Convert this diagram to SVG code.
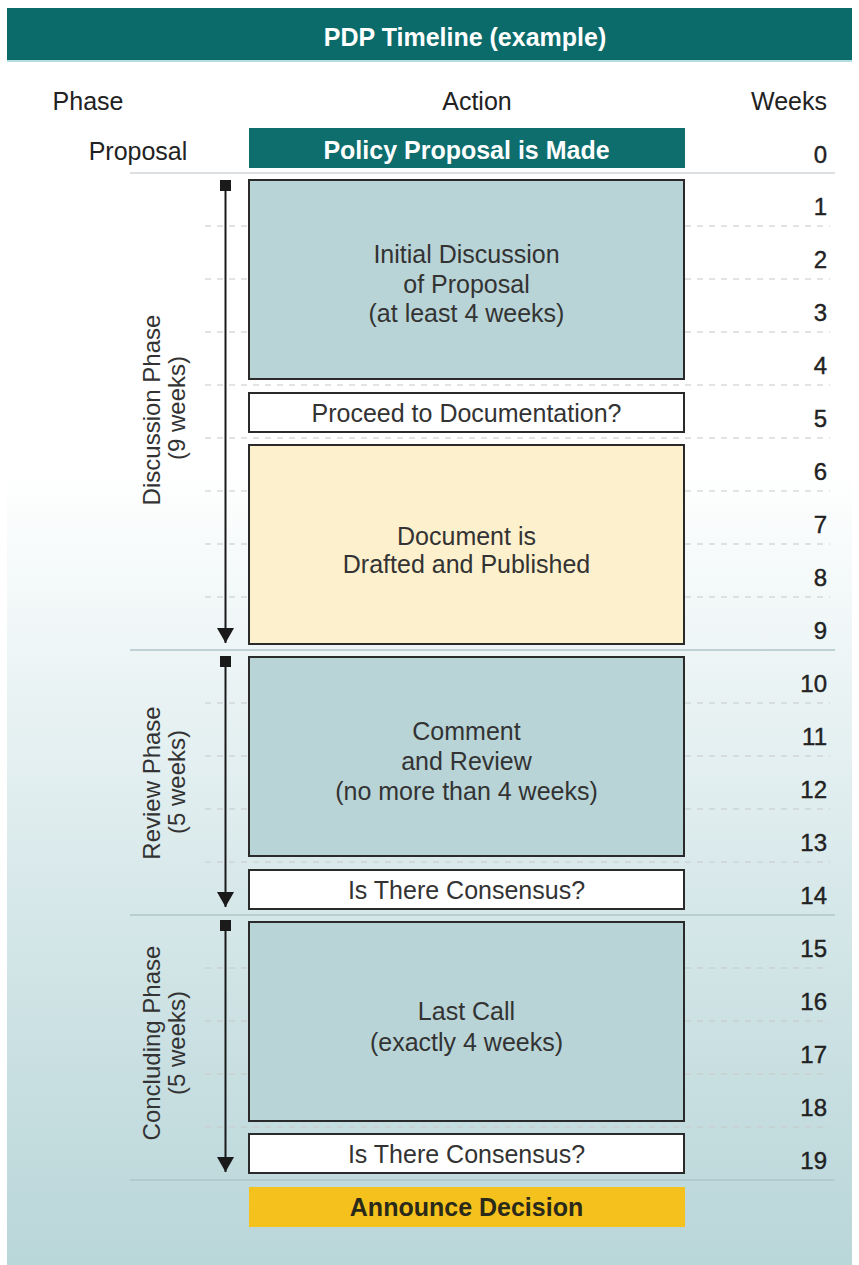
<svg xmlns="http://www.w3.org/2000/svg" width="859" height="1265" viewBox="0 0 859 1265">
<defs>
<linearGradient id="bg" gradientUnits="userSpaceOnUse" x1="0" y1="470" x2="0" y2="1265">
<stop offset="0" stop-color="#ffffff"/>
<stop offset="0.3" stop-color="#e8f2f3"/>
<stop offset="0.65" stop-color="#cfe3e5"/>
<stop offset="1" stop-color="#b9d6d9"/>
</linearGradient>
<marker id="arr" viewBox="0 0 15 17" refX="15" refY="8.5" markerWidth="15" markerHeight="17" markerUnits="userSpaceOnUse" orient="auto">
<path d="M0,0 L15,8.5 L0,17 Z" fill="#1a1a1a"/>
</marker>
<style>
text{font-family:"Liberation Sans",Arial,Helvetica,sans-serif;}
.hd{font-size:25px;fill:#222;}
.bt{font-size:25px;fill:#333;text-anchor:middle;}
.bb{font-size:25px;font-weight:bold;text-anchor:middle;}
.wk{font-size:24px;fill:#222;stroke:#222;stroke-width:0.4;text-anchor:end;}
.ph{font-size:24px;fill:#333;text-anchor:middle;}
.box{stroke:#2a2a2a;stroke-width:2;}
.blue{fill:#b8d4d7;}
.cream{fill:#fdf0cd;}
.white{fill:#ffffff;}
.dash{stroke:#c8c8c8;stroke-width:1.2;stroke-dasharray:6 6;}
.sep{stroke:#aec6ca;stroke-width:1.5;}
.arrowline{stroke:#1a1a1a;stroke-width:2;fill:none;}
</style>
</defs>

<!-- background -->
<rect x="7" y="60" width="845" height="1205" fill="url(#bg)"/>

<!-- title -->
<g id="title">
<rect x="7" y="8" width="845" height="52" fill="#0b6b6b"/>
<line x1="7" y1="61" x2="852" y2="61" stroke="#9fd3d3" stroke-width="1.5"/>
<text x="465" y="46" class="bb" fill="#ffffff" font-size="24">PDP Timeline (example)</text>
</g>

<!-- headers -->
<g id="headers">
<text x="88" y="110" class="hd" text-anchor="middle">Phase</text>
<text x="477" y="110" class="hd" text-anchor="middle">Action</text>
<text x="827" y="110" class="hd" text-anchor="end">Weeks</text>
<text x="138" y="160" class="hd" text-anchor="middle">Proposal</text>
</g>

<!-- grid lines -->
<g id="grid">
<line x1="130" y1="173" x2="835" y2="173" stroke="#d0d6d8" stroke-width="1.5"/>
<line class="sep" x1="130" y1="650" x2="835" y2="650"/>
<line class="sep" x1="130" y1="915" x2="835" y2="915"/>
<line class="sep" x1="130" y1="1180" x2="835" y2="1180"/>
<g class="dash">
<line x1="205" y1="226" x2="830" y2="226"/>
<line x1="205" y1="279" x2="830" y2="279"/>
<line x1="205" y1="332" x2="830" y2="332"/>
<line x1="205" y1="385" x2="830" y2="385"/>
<line x1="205" y1="438" x2="830" y2="438"/>
<line x1="205" y1="491" x2="830" y2="491"/>
<line x1="205" y1="544" x2="830" y2="544"/>
<line x1="205" y1="597" x2="830" y2="597"/>
<line x1="205" y1="703" x2="830" y2="703"/>
<line x1="205" y1="756" x2="830" y2="756"/>
<line x1="205" y1="809" x2="830" y2="809"/>
<line x1="205" y1="862" x2="830" y2="862"/>
<line x1="205" y1="968" x2="830" y2="968"/>
<line x1="205" y1="1021" x2="830" y2="1021"/>
<line x1="205" y1="1074" x2="830" y2="1074"/>
<line x1="205" y1="1127" x2="830" y2="1127"/>
</g>
</g>

<!-- week numbers -->
<g id="weeks">
<text class="wk" x="827" y="163">0</text>
<text class="wk" x="827" y="215">1</text>
<text class="wk" x="827" y="268">2</text>
<text class="wk" x="827" y="321">3</text>
<text class="wk" x="827" y="374">4</text>
<text class="wk" x="827" y="427">5</text>
<text class="wk" x="827" y="480">6</text>
<text class="wk" x="827" y="533">7</text>
<text class="wk" x="827" y="586">8</text>
<text class="wk" x="827" y="639">9</text>
<text class="wk" x="827" y="692">10</text>
<text class="wk" x="827" y="745">11</text>
<text class="wk" x="827" y="798">12</text>
<text class="wk" x="827" y="851">13</text>
<text class="wk" x="827" y="904">14</text>
<text class="wk" x="827" y="957">15</text>
<text class="wk" x="827" y="1010">16</text>
<text class="wk" x="827" y="1063">17</text>
<text class="wk" x="827" y="1116">18</text>
<text class="wk" x="827" y="1169">19</text>
</g>

<!-- phase labels -->
<g id="phase-discussion">
<text class="ph" transform="translate(160,410) rotate(-90)">Discussion Phase</text>
<text class="ph" transform="translate(185,408) rotate(-90)">(9 weeks)</text>
</g>
<g id="phase-review">
<text class="ph" transform="translate(160,783) rotate(-90)">Review Phase</text>
<text class="ph" transform="translate(185,782) rotate(-90)">(5 weeks)</text>
</g>
<g id="phase-concluding">
<text class="ph" transform="translate(160,1043) rotate(-90)">Concluding Phase</text>
<text class="ph" transform="translate(185,1043) rotate(-90)">(5 weeks)</text>
</g>

<!-- nodes -->
<g id="policy-proposal">
<rect x="249" y="128" width="436" height="40" fill="#0e6d6d"/>
<text class="bb" x="466.5" y="159" fill="#ffffff">Policy Proposal is Made</text>
</g>
<g id="initial-discussion">
<rect class="box blue" x="249" y="180" width="435" height="199"/>
<text class="bt" x="466.5" y="263">Initial Discussion</text>
<text class="bt" x="466.5" y="293">of Proposal</text>
<text class="bt" x="466.5" y="322">(at least 4 weeks)</text>
</g>
<g id="proceed">
<rect class="box white" x="249" y="393" width="435" height="39"/>
<text class="bt" x="466.5" y="422">Proceed to Documentation?</text>
</g>
<g id="document">
<rect class="box cream" x="249" y="445" width="435" height="199"/>
<text class="bt" x="466.5" y="545">Document is</text>
<text class="bt" x="466.5" y="573">Drafted and Published</text>
</g>
<g id="comment-review">
<rect class="box blue" x="249" y="657" width="435" height="199"/>
<text class="bt" x="466.5" y="740">Comment</text>
<text class="bt" x="466.5" y="770">and Review</text>
<text class="bt" x="466.5" y="800">(no more than 4 weeks)</text>
</g>
<g id="consensus-1">
<rect class="box white" x="249" y="870" width="435" height="39"/>
<text class="bt" x="466.5" y="899">Is There Consensus?</text>
</g>
<g id="last-call">
<rect class="box blue" x="249" y="922" width="435" height="199"/>
<text class="bt" x="466.5" y="1020">Last Call</text>
<text class="bt" x="466.5" y="1051">(exactly 4 weeks)</text>
</g>
<g id="consensus-2">
<rect class="box white" x="249" y="1134" width="435" height="39"/>
<text class="bt" x="466.5" y="1163">Is There Consensus?</text>
</g>
<g id="announce">
<rect x="249" y="1187" width="436" height="40" fill="#f5c11c"/>
<text class="bb" x="466.5" y="1216" fill="#2a2a1a">Announce Decision</text>
</g>

<!-- connectors -->
<g id="connectors">
<rect x="220" y="180" width="11" height="11" fill="#1a1a1a"/>
<line class="arrowline" x1="225.5" y1="186" x2="225.5" y2="643" marker-end="url(#arr)"/>
<rect x="220" y="656" width="11" height="11" fill="#1a1a1a"/>
<line class="arrowline" x1="225.5" y1="662" x2="225.5" y2="907" marker-end="url(#arr)"/>
<rect x="220" y="920" width="11" height="11" fill="#1a1a1a"/>
<line class="arrowline" x1="225.5" y1="926" x2="225.5" y2="1172" marker-end="url(#arr)"/>
</g>
</svg>
